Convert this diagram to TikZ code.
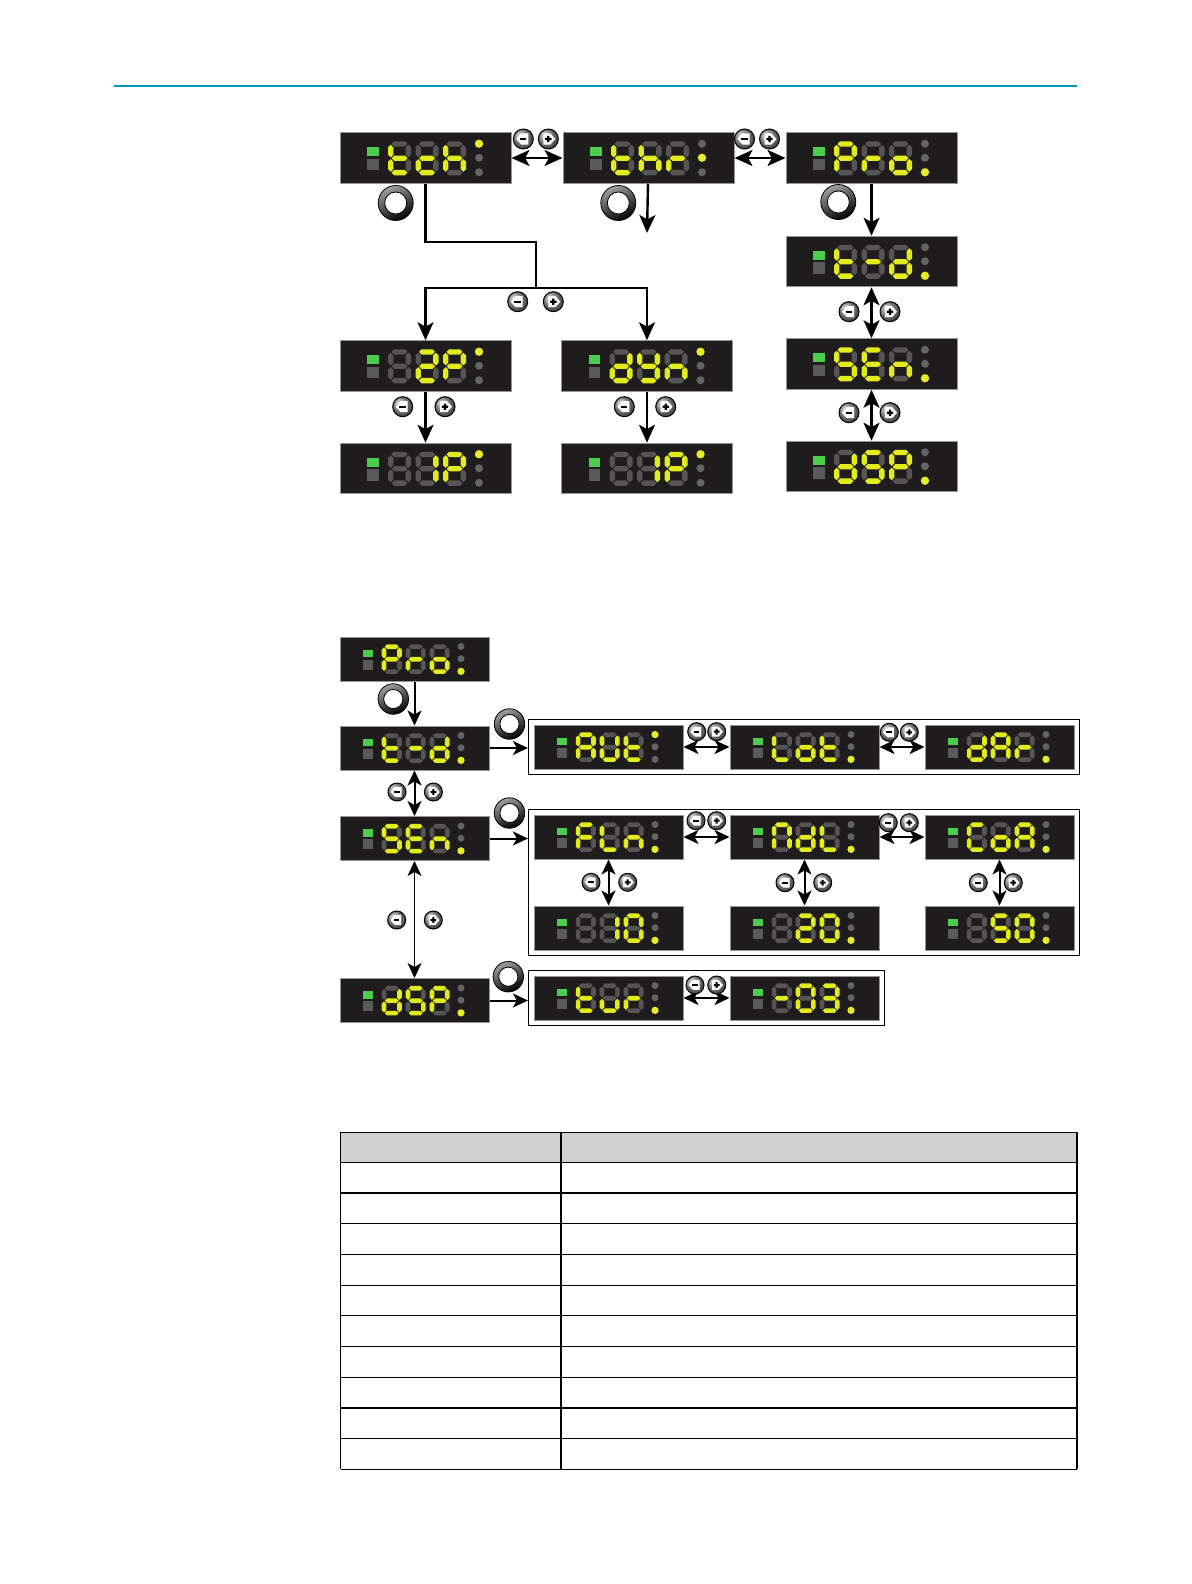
\documentclass[tikz,border=0pt]{standalone}
\usepackage{tikz}
\usetikzlibrary{positioning,fit,arrows.meta,shadings}
\definecolor{lcdbg}{RGB}{30,28,28}
\definecolor{lcdrim}{RGB}{150,150,150}
\definecolor{segon}{RGB}{226,236,28}
\definecolor{segoff}{RGB}{86,84,84}
\definecolor{ledgreen}{RGB}{76,206,76}
\definecolor{ledgray}{RGB}{90,90,90}
\definecolor{doton}{RGB}{230,236,40}
\definecolor{dotoff}{RGB}{100,100,100}
\definecolor{rulecol}{RGB}{0,150,190}
\definecolor{hdrgray}{RGB}{208,208,208}
\makeatletter
% one seven-segment digit, segments a..g
\newcommand{\hseg}[4]{\fill[#4] (#2,#1) -- (#2+2.7,#1-2.7) -- (#3-2.7,#1-2.7) -- (#3,#1) -- (#3-2.7,#1+2.7) -- (#2+2.7,#1+2.7) -- cycle;}
\newcommand{\vseg}[4]{\fill[#4] (#1,#2) -- (#1+2.7,#2+2.7) -- (#1+2.7,#3-2.7) -- (#1,#3) -- (#1-2.7,#3-2.7) -- (#1-2.7,#2+2.7) -- cycle;}
\def\seg@a{\hseg{11.7}{\sx+3.5}{\sx+19.5}{\segsty}}
\def\seg@g{\hseg{26}{\sx+3.5}{\sx+19.5}{\segsty}}
\def\seg@d{\hseg{40.3}{\sx+3.5}{\sx+19.5}{\segsty}}
\def\seg@f{\vseg{\sx+2.7}{12.5}{25.2}{\segsty}}
\def\seg@e{\vseg{\sx+2.7}{26.8}{39.5}{\segsty}}
\def\seg@b{\vseg{\sx+20.3}{12.5}{25.2}{\segsty}}
\def\seg@c{\vseg{\sx+20.3}{26.8}{39.5}{\segsty}}
\newcommand{\segdigit}[2]{\def\sx{#1}\def\litset{#2}%
  \foreach \sg in {a,b,c,d,e,f,g}{%
    \edef\seg@test{\noexpand\in@{\sg}{\litset}}\seg@test
    \ifin@\def\segsty{segon}\else\def\segsty{segoff}\fi
    \csname seg@\sg\endcsname}}
\makeatother
% face of a display node: name, scale, three digits, lit dot
\newcommand{\lcdface}[6]{%
  \begin{scope}[shift={(#1.north west)},scale=#2]
    \fill[ledgreen] (27.5,15) rectangle (39,24);
    \fill[ledgray] (27.5,26.5) rectangle (39,38);
    \segdigit{48.5}{#3}\segdigit{76}{#4}\segdigit{103.5}{#5}
    \foreach \k/\yy in {1/11.5,2/25.5,3/40}{%
      \ifnum\k=#6 \fill[doton] (139.5,\yy) circle (4.2);\else\fill[dotoff] (139.5,\yy) circle (4);\fi}
  \end{scope}}
\tikzset{
lcd/.style={rectangle,fill=lcdbg,draw=lcdrim,line width=0.5pt,minimum width=85.5pt,minimum height=25.25pt,inner sep=0pt},
lcds/.style={lcd,minimum width=74.5pt,minimum height=22pt},
menubox/.style={draw=black,line width=0.6pt,inner sep=2.5pt},
arr/.style={-{Stealth[length=9pt,width=8pt,inset=2.2pt]},line width=1.2pt},
arrd/.style={{Stealth[length=9pt,width=8pt,inset=2.2pt]}-{Stealth[length=9pt,width=8pt,inset=2.2pt]},line width=1.2pt},
arrs/.style={-{Stealth[length=7.5pt,width=7pt,inset=2pt]},line width=1pt},
arrsd/.style={{Stealth[length=7.5pt,width=7pt,inset=2pt]}-{Stealth[length=7.5pt,width=7pt,inset=2pt]},line width=1pt},
tblline/.style={black,line width=0.6pt},
ringbtn/.pic={\shade[top color=gray!75,bottom color=black,shading angle=25] (0,0) circle (17.5);
  \fill[white] (0,0) circle (11);
  \draw[black,line width=0.4pt] (0,0) circle (17.5) (0,0) circle (11);},
minusbtn/.pic={\shadedraw[ball color=gray!75,draw=black,line width=0.5pt] (0,0) circle (10);
  \fill[white] (-7,0) -- (-2,-5.5) -- (5,-5.5) -- (5,5.5) -- (-2,5.5) -- cycle;
  \fill[black] (-3.5,-1.2) rectangle (3,1.2);},
plusbtn/.pic={\shadedraw[ball color=gray!75,draw=black,line width=0.5pt] (0,0) circle (10);
  \fill[white] (7,0) -- (2,-5.5) -- (-5,-5.5) -- (-5,5.5) -- (2,5.5) -- cycle;
  \fill[black] (-3.2,-1.1) rectangle (3.2,1.1) (-1.1,-3.2) rectangle (1.1,3.2);}
}
\begin{document}
\begin{tikzpicture}[x=0.5pt,y=-0.5pt]
\fill[white] (0,0) rectangle (1191,1584);
\useasboundingbox (0,0) rectangle (1191,1584);
\draw[rulecol,line width=0.7pt] (114,86) -- (1077,86);

% teach-in menu
\node[lcd] (tch) at (425.5,158) {};
\node[lcd,right=25.5pt of tch] (thr) {};
\node[lcd,right=25.5pt of thr] (pro) {};
\node[lcd,below=26pt of pro] (td) {};
\node[lcd,below=25.5pt of td] (sen) {};
\node[lcd,below=25.5pt of sen] (dsp) {};
\node[lcd] (twop) at (425.5,366) {};
\node[lcd,below=25.5pt of twop] (onepa) {};
\node[lcd] (dyn) at (647,366) {};
\node[lcd,below=25.5pt of dyn] (onepb) {};
\lcdface{tch}{1}{defg}{deg}{cefg}{1}
\lcdface{thr}{1}{defg}{cefg}{eg}{2}
\lcdface{pro}{1}{abefg}{eg}{cdeg}{3}
\lcdface{td}{1}{defg}{g}{bcdeg}{3}
\lcdface{sen}{1}{acdfg}{adefg}{ceg}{3}
\lcdface{dsp}{1}{bcdeg}{acdfg}{abefg}{3}
\lcdface{twop}{1}{}{abdeg}{abefg}{1}
\lcdface{onepa}{1}{}{bc}{abefg}{1}
\lcdface{dyn}{1}{bcdeg}{bcdfg}{ceg}{1}
\lcdface{onepb}{1}{}{bc}{abefg}{1}

\coordinate (split) at (536,288);
\coordinate (thrend) at (647,233);
\draw[arrd] (tch) -- (thr);
\draw[arrd] (thr) -- (pro);
\draw[arr] (tch.south) -- ++(0,58) -| (split) -| (twop);
\draw[arr] (split) -| (dyn);
\draw[arr] (thr) -- (thrend);
\draw[arr] (pro) -- (td);
\draw[arrd] (td) -- (sen);
\draw[arrd] (sen) -- (dsp);
\draw[arr] (twop) -- (onepa);
\draw[arr] (dyn) -- (onepb);

\pic at (395.7,203) {ringbtn};
\pic at (618.3,203) {ringbtn};
\pic at (838.3,202) {ringbtn};
\pic at (523.3,139) {minusbtn};  \pic at (548.3,139) {plusbtn};
\pic at (744.5,139) {minusbtn};  \pic at (769.5,139) {plusbtn};
\pic at (517.7,301.7) {minusbtn};\pic at (553.3,301.7) {plusbtn};
\pic at (402.7,406.7) {minusbtn};\pic at (445,406.7) {plusbtn};
\pic at (624.3,406.7) {minusbtn};\pic at (665.7,406.7) {plusbtn};
\pic at (849,311.7) {minusbtn};  \pic at (890,311.7) {plusbtn};
\pic at (849,412.7) {minusbtn};  \pic at (890,412.7) {plusbtn};

% process menu
\node[lcds] (lpro) at (414.5,659) {};
\node[lcds,below=22pt of lpro] (ltd) {};
\node[lcds,below=22.75pt of ltd] (lsen) {};
\node[lcds,below=58.5pt of lsen] (ldsp) {};
\node[lcds] (aut) at (608.5,747) {};
\node[lcds,right=23pt of aut] (lot) {};
\node[lcds,right=22.5pt of lot] (dar) {};
\node[lcds] (fln) at (608.5,837) {};
\node[lcds,right=23pt of fln] (ndl) {};
\node[lcds,right=22.5pt of ndl] (coa) {};
\node[lcds,below=23pt of fln] (ten) {};
\node[lcds,below=23pt of ndl] (twenty) {};
\node[lcds,below=23pt of coa] (fifty) {};
\node[lcds] (tur) at (608.5,998) {};
\node[lcds,right=23pt of tur] (dthree) {};
\node[menubox,fit=(aut)(dar)] (autbox) {};
\node[menubox,fit=(fln)(fifty)] (flnbox) {};
\node[menubox,fit=(tur)(dthree)] (turbox) {};
\lcdface{lpro}{0.871}{abefg}{eg}{cdeg}{3}
\lcdface{ltd}{0.871}{defg}{g}{bcdeg}{3}
\lcdface{lsen}{0.871}{acdfg}{adefg}{ceg}{3}
\lcdface{ldsp}{0.871}{bcdeg}{acdfg}{abefg}{3}
\lcdface{aut}{0.871}{abcefg}{bcdef}{defg}{1}
\lcdface{lot}{0.871}{def}{cdeg}{defg}{3}
\lcdface{dar}{0.871}{bcdeg}{abcefg}{eg}{3}
\lcdface{fln}{0.871}{aefg}{def}{ceg}{3}
\lcdface{ndl}{0.871}{abcef}{bcdeg}{def}{3}
\lcdface{coa}{0.871}{adef}{cdeg}{abcefg}{3}
\lcdface{ten}{0.871}{}{bc}{abcdef}{3}
\lcdface{twenty}{0.871}{}{abdeg}{abcdef}{3}
\lcdface{fifty}{0.871}{}{acdfg}{abcdef}{3}
\lcdface{tur}{0.871}{defg}{cde}{eg}{3}
\lcdface{dthree}{0.871}{g}{abcdef}{abcdg}{3}

\draw[arrs] (lpro) -- (ltd);
\draw[arrsd] (ltd) -- (lsen);
\draw[arrsd,line width=0.5pt] (lsen) -- (ldsp);
\draw[arrs] (ltd) -- (ltd -| autbox.west);
\draw[arrs] (lsen) -- (lsen -| flnbox.west);
\draw[arrs] (ldsp) -- (ldsp -| turbox.west);
\draw[arrsd] (aut) -- (lot);
\draw[arrsd] (lot) -- (dar);
\draw[arrsd] (fln) -- (ndl);
\draw[arrsd] (ndl) -- (coa);
\draw[arrsd] (fln) -- (ten);
\draw[arrsd] (ndl) -- (twenty);
\draw[arrsd] (coa) -- (fifty);
\draw[arrsd] (tur) -- (dthree);

\pic[scale=0.87] at (393.3,699) {ringbtn};
\pic[scale=0.87] at (509.5,724) {ringbtn};
\pic[scale=0.87] at (509.5,813) {ringbtn};
\pic[scale=0.87] at (508.3,976.7) {ringbtn};
\pic[scale=0.9] at (397,792) {minusbtn};   \pic[scale=0.9] at (433.4,792) {plusbtn};
\pic[scale=0.9] at (396.7,920) {minusbtn}; \pic[scale=0.9] at (433.3,920) {plusbtn};
\pic[scale=0.9] at (696.7,731.7) {minusbtn};\pic[scale=0.9] at (716.7,731.7) {plusbtn};
\pic[scale=0.9] at (889.3,732.3) {minusbtn};\pic[scale=0.9] at (909.3,732.3) {plusbtn};
\pic[scale=0.9] at (696,820.7) {minusbtn};  \pic[scale=0.9] at (716.7,820.7) {plusbtn};
\pic[scale=0.9] at (888.3,822.7) {minusbtn};\pic[scale=0.9] at (909.3,822.7) {plusbtn};
\pic[scale=0.9] at (591,882.3) {minusbtn};  \pic[scale=0.9] at (627.7,882.3) {plusbtn};
\pic[scale=0.9] at (785,882.7) {minusbtn};  \pic[scale=0.9] at (822.7,882.7) {plusbtn};
\pic[scale=0.9] at (978.3,882.7) {minusbtn};\pic[scale=0.9] at (1013.3,882.7) {plusbtn};
\pic[scale=0.9] at (695,985) {minusbtn};    \pic[scale=0.9] at (716.7,985) {plusbtn};

% empty table
\fill[hdrgray] (340.5,1132.3) rectangle (1077,1162.3);
\draw[tblline] (340.5,1132.3) -- (1077,1132.3);
\foreach \k in {0,...,10}
  \draw[tblline] (340.5,1162.3+30.7*\k) -- (1077,1162.3+30.7*\k);
\foreach \xx in {340.5,561,1077}
  \draw[tblline] (\xx,1132.3) -- (\xx,1469.3);
\end{tikzpicture}
\end{document}
